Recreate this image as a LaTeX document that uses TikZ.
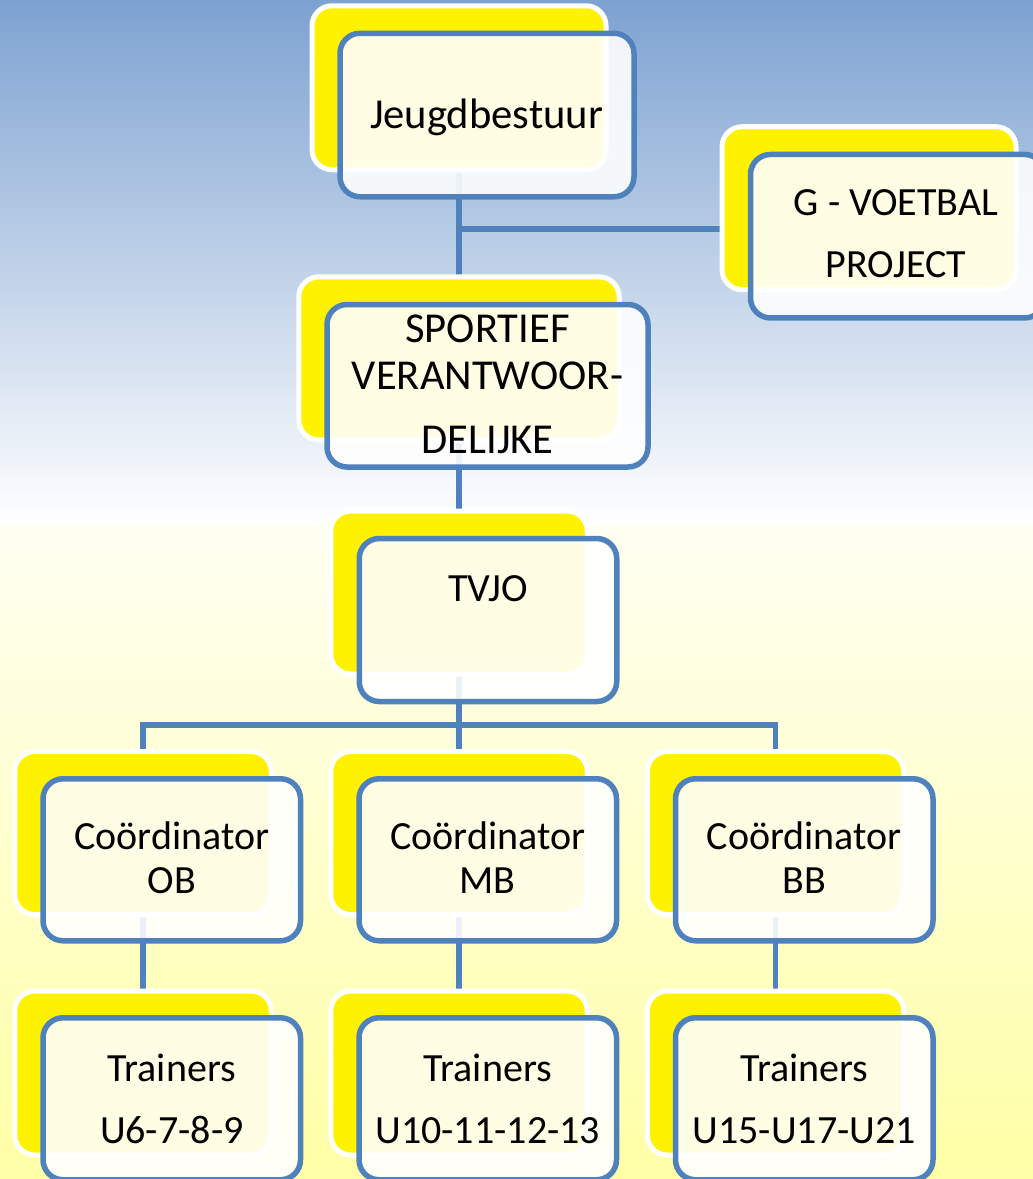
\documentclass[tikz,border=0pt]{standalone}
\usepackage{fontspec}
\setmainfont{Carlito}
\usetikzlibrary{positioning}

\pgfdeclarelayer{bg}
\pgfdeclarelayer{links}
\pgfsetlayers{bg,links,main}

\definecolor{bgblue}{RGB}{125,162,209}
\definecolor{bgivory}{RGB}{255,255,242}
\definecolor{bgyellow}{RGB}{255,255,166}
\definecolor{linkblue}{RGB}{79,129,189}

\begin{document}
\begin{tikzpicture}[x=1pt, y=-1pt,
    backbox/.style={draw=white, line width=5pt, fill=yellow, rounded corners=20pt,
        inner sep=0pt, minimum width=#1, minimum height=163pt},
    backbox/.default=256.5pt,
    frontbox/.style={draw=linkblue, line width=5.5pt, fill=white, fill opacity=0.89,
        rounded corners=20pt, inner sep=0pt, minimum width=#1, minimum height=162pt},
    frontbox/.default=257.5pt,
    boxtext/.style={align=center, inner sep=0pt, text=black,
        font=\fontsize{40}{#1}\selectfont},
    boxtext/.default=44pt,
    bigtext/.style={align=center, inner sep=0pt, text=black,
        font=\fontsize{42.6}{#1}\selectfont},
    bigtext/.default=47pt,
    link/.style={draw=linkblue, line width=5.5pt}]

    \useasboundingbox (0,0) rectangle (1033,1179);
    \begin{pgfonlayer}{bg}
        \fill[top color=bgblue, bottom color=white] (0,0) rectangle (1033,525);
        \fill[top color=bgivory, bottom color=bgyellow] (0,525) rectangle (1033,1179);
    \end{pgfonlayer}

    % Yellow back boxes
    \node[backbox=294pt, minimum height=164pt] (jb-back) at (459,87.75) {};
    \node[backbox=294pt] (gv-back) at (869,208.2) {};
    \node[backbox=320.5pt] (sv-back) at (459,358.35) {};
    \node[backbox] (tv-back) at (459,592.5) {};
    \node[backbox] (ob-back) at (143,833) {};
    \node[backbox] (mb-back) at (459,833) {};
    \node[backbox] (bb-back) at (775.5,833) {};
    \node[backbox, minimum height=164pt] (tob-back) at (143,1073) {};
    \node[backbox, minimum height=164pt] (tmb-back) at (459,1073) {};
    \node[backbox, minimum height=164pt] (tbb-back) at (775.5,1073) {};

    % Front boxes
    \node[frontbox=294pt, minimum height=163.5pt] (jb) at ([shift={(28,27.25)}]jb-back.center) {};
    \node[frontbox=294pt, minimum height=163.5pt] (gv) at ([shift={(28.5,28)}]gv-back.center) {};
    \node[frontbox=321pt, minimum height=162.5pt] (sv) at ([shift={(28.5,27.4)}]sv-back.center) {};
    \node[frontbox, minimum height=163pt] (tv) at ([shift={(29,27.5)}]tv-back.center) {};
    \node[frontbox] (ob) at ([shift={(28.75,26.75)}]ob-back.center) {};
    \node[frontbox] (mb) at ([shift={(28.75,26.75)}]mb-back.center) {};
    \node[frontbox] (bb) at ([shift={(28.75,26.75)}]bb-back.center) {};
    \node[frontbox] (tob) at ([shift={(28.75,25.75)}]tob-back.center) {};
    \node[frontbox] (tmb) at ([shift={(28.75,25.75)}]tmb-back.center) {};
    \node[frontbox] (tbb) at ([shift={(28.75,25.75)}]tbb-back.center) {};

    % Texts
    \node[bigtext] (jb-txt) at (486.5,117) {Jeugdbestuur};
    \node[boxtext=62pt] (gv-txt) at (896,233.5) {G - VOETBAL\\PROJECT};
    \node[bigtext] (sv-txt) at (487.5,384.5) {SPORTIEF\\VERANTWOOR-\\[17pt]DELIJKE};
    \node[boxtext] (tv-txt) at (488,589) {TVJO};
    \node[boxtext] (ob-txt) at (ob |- 0,858) {Coördinator\\OB};
    \node[boxtext] (mb-txt) at (mb |- 0,858) {Coördinator\\MB};
    \node[boxtext] (bb-txt) at (bb |- 0,858) {Coördinator\\BB};
    \node[boxtext=62pt] (tob-txt) at (tob |- 0,1099) {Trainers\\U6-7-8-9};
    \node[boxtext=62pt] (tmb-txt) at (tmb |- 0,1099) {Trainers\\U10-11-12-13};
    \node[boxtext=62pt] (tbb-txt) at (tbb |- 0,1099) {Trainers\\U15-U17-U21};

    % Connections
    \coordinate (gvjoin) at (459,229);
    \coordinate (split) at (459,725);
    \begin{pgfonlayer}{links}
        \draw[link] (jb-back.center) -- (sv-back.center);
        \draw[link] (gvjoin) -- (gvjoin -| gv-back.center);
        \draw[link] (sv-back.center) -- (tv-back.center);
        \draw[link] (tv-back.center) -- (split);
        \draw[link] (ob-back.center) |- (split) -| (bb-back.center);
        \draw[link] (split) -- (mb-back.center);
        \draw[link] (ob-back.center) -- (tob-back.center);
        \draw[link] (mb-back.center) -- (tmb-back.center);
        \draw[link] (bb-back.center) -- (tbb-back.center);
    \end{pgfonlayer}
\end{tikzpicture}
\end{document}
